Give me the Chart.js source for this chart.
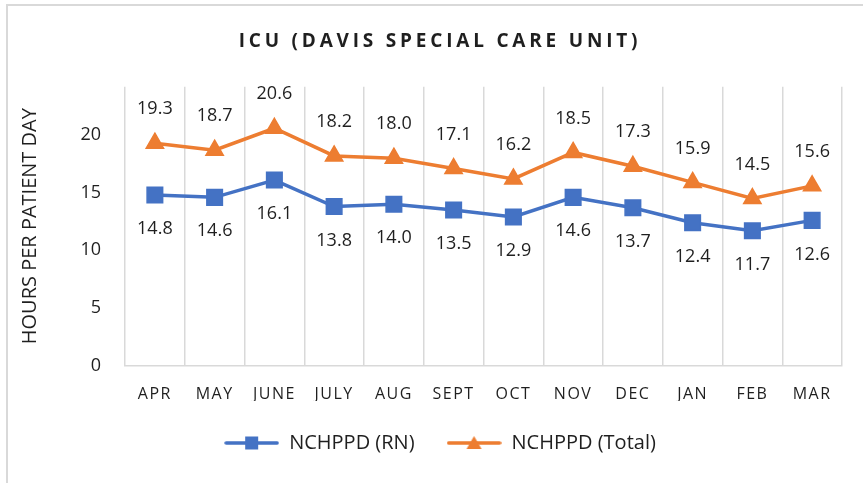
<!DOCTYPE html>
<html>
<head>
<meta charset="utf-8">
<script src="https://cdn.jsdelivr.net/npm/chart.js@4/dist/chart.umd.min.js"></script>
<style>
  html, body { margin: 0; padding: 0; background: #fff; }
  #wrap { position: relative; width: 863px; height: 483px; }
</style>
</head>
<body>
<div id="wrap"><canvas id="c" width="863" height="483"></canvas></div>
<script>
const months = ['APR', 'MAY', 'JUNE', 'JULY', 'AUG', 'SEPT', 'OCT', 'NOV', 'DEC', 'JAN', 'FEB', 'MAR'];
const rnValues = [14.8, 14.6, 16.1, 13.8, 14.0, 13.5, 12.9, 14.6, 13.7, 12.4, 11.7, 12.6];
const totalValues = [19.3, 18.7, 20.6, 18.2, 18.0, 17.1, 16.2, 18.5, 17.3, 15.9, 14.5, 15.6];
const yTickValues = [0, 5, 10, 15, 20];
const seriesNames = ['NCHPPD (RN)', 'NCHPPD (Total)'];
const chartTitle = 'ICU (DAVIS SPECIAL CARE UNIT)';
const yAxisTitle = 'HOURS PER PATIENT DAY';

const BLUE = '#4472C4';
const ORANGE = '#ED7D31';
const GRID = '#d9d9d9';
const TEXT = '#1f1f1f';
const FONT = "'Open Sans', 'Noto Sans', sans-serif";

function legendSample(color, shape) {
  const cv = document.createElement('canvas');
  cv.width = 55; cv.height = 20;
  const g = cv.getContext('2d');
  g.strokeStyle = color; g.lineWidth = 3.5; g.lineCap = 'round';
  g.beginPath(); g.moveTo(2, 10); g.lineTo(53, 10); g.stroke();
  g.fillStyle = color;
  if (shape === 'rect') {
    g.fillRect(21, 3.5, 13, 13);
  } else {
    g.beginPath(); g.moveTo(27.5, 3); g.lineTo(35, 16); g.lineTo(20, 16); g.closePath(); g.fill();
  }
  return cv;
}
const legendImgs = [legendSample(BLUE, 'rect'), legendSample(ORANGE, 'triangle')];

const frameAndSpacing = {
  id: 'frameAndSpacing',
  beforeDraw(chart) {
    const ctx = chart.ctx;
    ctx.save();
    ctx.strokeStyle = GRID; ctx.lineWidth = 2;
    ctx.beginPath();
    ctx.moveTo(7, 483); ctx.lineTo(7, 5); ctx.lineTo(863, 5);
    ctx.stroke();
    ctx.restore();
  },
  afterLayout(chart) {
    const patch = (obj, key, spacing) => {
      if (!obj || obj['__p_' + key]) return;
      const orig = obj[key];
      obj[key] = function () {
        const ctx = this.ctx;
        const prev = ctx.letterSpacing;
        ctx.letterSpacing = spacing;
        const r = orig.apply(this, arguments);
        ctx.letterSpacing = prev || '0px';
        return r;
      };
      obj['__p_' + key] = true;
    };
    patch(chart.titleBlock, 'draw', '3.8px');
    patch(chart.scales.x, 'drawLabels', '1.5px');
  }
};

const dataLabels = {
  id: 'dataLabels',
  afterDatasetsDraw(chart) {
    const ctx = chart.ctx;
    ctx.save();
    ctx.font = "18px " + FONT;
    ctx.fillStyle = TEXT;
    ctx.textAlign = 'center';
    ctx.textBaseline = 'middle';
    chart.data.datasets.forEach((ds, di) => {
      const meta = chart.getDatasetMeta(di);
      const dir = ds.labelAbove ? -1 : 1;
      meta.data.forEach((pt, i) => {
        ctx.fillText(ds.data[i].toFixed(1), pt.x, pt.y + dir * 34);
      });
    });
    ctx.restore();
  }
};

new Chart(document.getElementById('c'), {
  type: 'line',
  data: {
    labels: months,
    datasets: [
      {
        label: seriesNames[0],
        data: rnValues,
        borderColor: BLUE,
        backgroundColor: BLUE,
        borderWidth: 3.5,
        pointStyle: 'rect',
        pointRadius: 11,
        pointBorderWidth: 1.5,
        pointBackgroundColor: BLUE,
        pointBorderColor: BLUE,
        tension: 0,
        labelAbove: false
      },
      {
        label: seriesNames[1],
        data: totalValues,
        borderColor: ORANGE,
        backgroundColor: ORANGE,
        borderWidth: 3.5,
        pointStyle: 'triangle',
        pointRadius: 10,
        pointBorderWidth: 1.5,
        pointBackgroundColor: ORANGE,
        pointBorderColor: ORANGE,
        tension: 0,
        labelAbove: true
      }
    ]
  },
  options: {
    responsive: false,
    animation: false,
    devicePixelRatio: 1,
    layout: { padding: { top: 0, right: 21, bottom: 20, left: 38 } },
    plugins: {
      title: {
        display: true,
        text: chartTitle,
        color: TEXT,
        font: { family: FONT, size: 19, weight: 'bold', lineHeight: 1.2 },
        padding: { top: 30, bottom: 34 }
      },
      legend: {
        position: 'bottom',
        labels: {
          usePointStyle: true,
          pointStyleWidth: 55,
          padding: 32,
          color: TEXT,
          font: { family: FONT, size: 20 },
          generateLabels(chart) {
            const items = Chart.defaults.plugins.legend.labels.generateLabels(chart);
            items.forEach((it, i) => { it.pointStyle = legendImgs[i]; });
            return items;
          }
        }
      },
      tooltip: { enabled: false }
    },
    scales: {
      x: {
        offset: true,
        grid: { display: true, offset: true, color: GRID, lineWidth: 1.5, drawTicks: false, tickLength: 0 },
        border: { display: true, color: GRID, width: 1.5 },
        ticks: { color: TEXT, font: { family: FONT, size: 16 }, padding: 19, autoSkip: false, maxRotation: 0 },
        afterFit(scale) { scale.height = 35.5; }
      },
      y: {
        min: 0,
        max: 24.2,
        grid: { display: false, drawTicks: false, tickLength: 0 },
        border: { display: false },
        ticks: { stepSize: 5, color: TEXT, font: { family: FONT, size: 18 }, padding: 24 },
        afterBuildTicks(scale) {
          scale.ticks = yTickValues.map(v => ({ value: v }));
        },
        title: {
          display: true,
          text: yAxisTitle,
          color: TEXT,
          font: { family: FONT, size: 20, lineHeight: 1.2 },
          padding: { top: -20, bottom: 0 }
        },
        afterFit(scale) { scale.width = 87; }
      }
    }
  },
  plugins: [frameAndSpacing, dataLabels]
});
</script>
</body>
</html>
